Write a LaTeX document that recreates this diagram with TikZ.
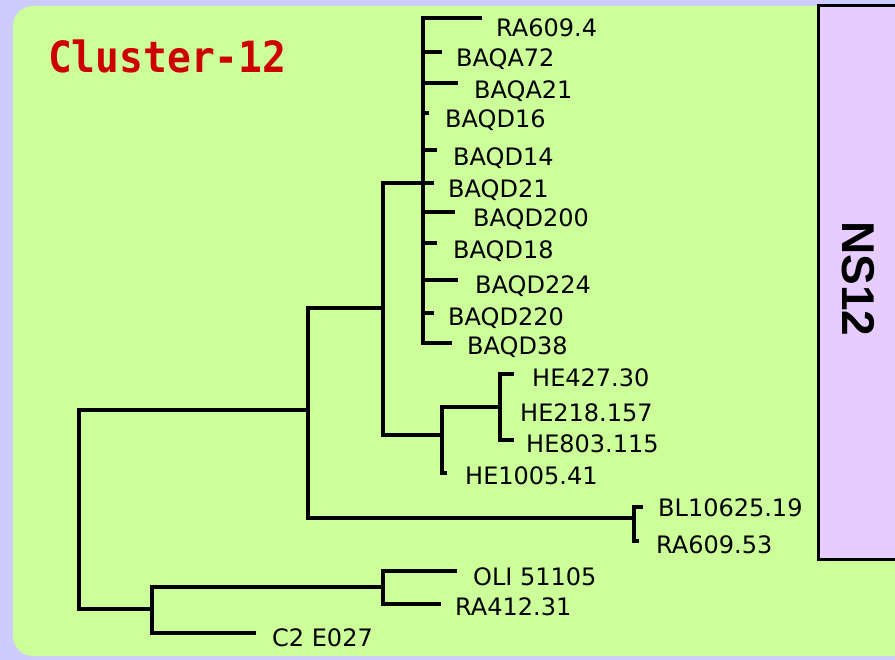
\documentclass[tikz,border=0pt]{standalone}
\usepackage{fontspec}
\setmainfont{DejaVu Sans}
\newfontfamily\titlefont{DejaVu Sans Mono}
\newfontfamily\boxfont{Liberation Sans}
\definecolor{lav}{HTML}{CCCCFF}
\definecolor{leaf}{HTML}{CCFF99}
\definecolor{purp}{HTML}{E6CCFF}
\definecolor{titlered}{HTML}{CC0000}
\begin{document}
\begin{tikzpicture}[x=1pt,y=-1pt,
  branch/.style={line width=3.4pt,line cap=rect,line join=miter,black},
  lbl/.style={anchor=base west,inner sep=0pt,font=\fontsize{24}{24}\selectfont}]
\useasboundingbox (0,0) rectangle (895,660);
\fill[lav] (0,0) rectangle (895,660);
\fill[leaf,rounded corners=20pt] (13,6) rectangle (940,656);
\draw[fill=purp,line width=3pt] (818,6) rectangle (905,559);
\node[rotate=-90,inner sep=0pt,font=\boxfont\bfseries\fontsize{46}{46}\selectfont] (ns) at (858,279) {NS12};
\node[anchor=base west,inner sep=0pt,xscale=0.92,text=titlered,font=\titlefont\bfseries\fontsize{43}{43}\selectfont] (title) at (48,73) {Cluster-12};

% internal nodes
\coordinate (R) at (79,509);
\coordinate (A) at (308,410);
\coordinate (B) at (383,308);
\coordinate (C) at (423,183);
\coordinate (D) at (442,435);
\coordinate (E) at (500,407);
\coordinate (F) at (634,518);
\coordinate (G) at (152,609);
\coordinate (H) at (383,587);

% tips
\coordinate (t1) at (480,18);
\coordinate (t2) at (440,52);
\coordinate (t3) at (456,83);
\coordinate (t4) at (427,113);
\coordinate (t5) at (435,150);
\coordinate (t6) at (432,183);
\coordinate (t7) at (453,212);
\coordinate (t8) at (435,243);
\coordinate (t9) at (456,280);
\coordinate (t10) at (432,313);
\coordinate (t11) at (450,343);
\coordinate (t12) at (512,374);
\coordinate (t13) at (512,440);
\coordinate (t14) at (445,473);
\coordinate (t15) at (641,507);
\coordinate (t16) at (637,541);
\coordinate (t17) at (455,571);
\coordinate (t18) at (439,604);
\coordinate (t19) at (254,633);

% labels
\node[lbl] (l1) at (496,37) {RA609.4};
\node[lbl] (l2) at (456,67) {BAQA72};
\node[lbl] (l3) at (474,99) {BAQA21};
\node[lbl] (l4) at (445,128) {BAQD16};
\node[lbl] (l5) at (453,166) {BAQD14};
\node[lbl] (l6) at (448,198) {BAQD21};
\node[lbl] (l7) at (473,227) {BAQD200};
\node[lbl] (l8) at (453,259) {BAQD18};
\node[lbl] (l9) at (475,294) {BAQD224};
\node[lbl] (l10) at (448,326) {BAQD220};
\node[lbl] (l11) at (467,355) {BAQD38};
\node[lbl] (l12) at (532,387) {HE427.30};
\node[lbl] (l20) at (520,422) {HE218.157};
\node[lbl] (l13) at (526,453) {HE803.115};
\node[lbl] (l14) at (465,485) {HE1005.41};
\node[lbl] (l15) at (658,516) {BL10625.19};
\node[lbl] (l16) at (656,553) {RA609.53};
\node[lbl] (l17) at (473,585) {OLI 51105};
\node[lbl] (l18) at (455,615) {RA412.31};
\node[lbl] (l19) at (272,646) {C2 E027};

% branches
\draw[branch] (R) |- (A);
\draw[branch] (R) |- (G);
\draw[branch] (A) |- (B);
\draw[branch] (A) |- (F);
\draw[branch] (B) |- (C);
\draw[branch] (B) |- (D);
\foreach \t in {t1,t2,t3,t4,t5,t6,t7,t8,t9,t10,t11}{\draw[branch] (C) |- (\t);}
\draw[branch] (D) |- (E);
\draw[branch] (D) |- (t14);
\draw[branch] (E) |- (t12);
\draw[branch] (E) |- (t13);
\draw[branch] (F) |- (t15);
\draw[branch] (F) |- (t16);
\draw[branch] (G) |- (H);
\draw[branch] (G) |- (t19);
\draw[branch] (H) |- (t17);
\draw[branch] (H) |- (t18);
\end{tikzpicture}
\end{document}
